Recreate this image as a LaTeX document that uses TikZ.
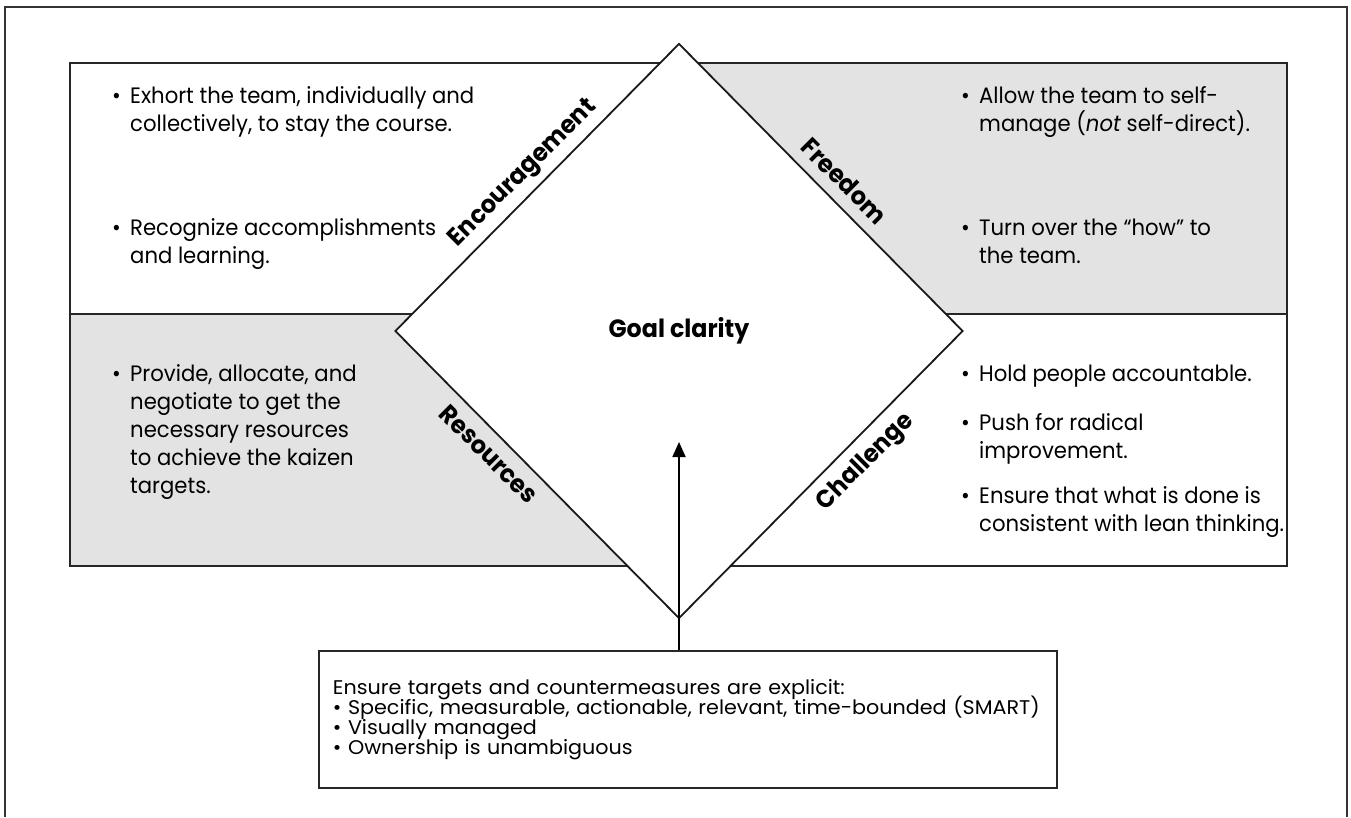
\documentclass[tikz,border=0pt]{standalone}
\usepackage{fontspec}
\setmainfont{Poppins}[FakeStretch=0.95]
\newfontfamily\smartfont{Poppins}[FakeStretch=1.045]
\usetikzlibrary{shapes.geometric,arrows.meta,calc}

% bullet with a fixed gap before the text
\newcommand\bul{\makebox[18pt][l]{\textbullet}}
\newcommand\ind{\hspace*{18pt}}
% wide, tightly set lines for the box under the diamond
\newcommand\boxtext{\smartfont\fontsize{19.8}{20}\selectfont\setlength{\lineskiplimit}{-10pt}}

\begin{document}
\begin{tikzpicture}
  [x=1pt,y=-1pt,
   frame/.style={line width=1.8pt,draw=black!80},
   panel/.style={line width=2pt,draw=black!85},
   shade/.style={fill=black!11},
   goal/.style={diamond,draw=black!90,fill=white,line width=1.8pt,minimum width=568pt,minimum height=575pt,inner sep=0pt,font=\fontsize{25}{30}\selectfont\bfseries},
   side/.style={font=\fontsize{25}{30}\selectfont\bfseries,inner sep=6pt},
   txt/.style={align=left,anchor=base west,inner sep=0pt,font=\fontsize{22.3}{28}\selectfont},
   smartbox/.style={draw=black!85,line width=1.8pt,align=left,anchor=north west,inner xsep=14pt,inner ysep=0pt,text width=710pt,minimum height=137pt,font=\boxtext},
   arr/.style={line width=1.8pt,-{Triangle[length=15pt,width=13pt]}}]
  \useasboundingbox (0,0) rectangle (1351,817);

  % open frame round the figure
  \draw[frame] (5,817) -- (5,7) -- (1347,7) -- (1347,817);

  % four panels behind the diamond
  \fill[shade] (679,63) rectangle (1287,314);
  \fill[shade] (70,314) rectangle (679,566);
  \draw[panel] (70,63) rectangle (1287,566);
  \draw[panel] (70,314) -- (1287,314);

  \node[goal] (goal) at (679,331) {Goal clarity};

  % labels on the four sides
  \node[side,rotate=45,anchor=south] (enc) at ($(goal.north)!0.5!(goal.west)$) {Encouragement};
  \node[side,rotate=-45,anchor=south,inner sep=11pt] (free) at ($(goal.north)!0.53!(goal.east)$) {Freedom};
  \node[side,rotate=-45,anchor=north,inner sep=10pt] (res) at ($(goal.west)!0.38!(goal.south)$) {Resources};
  \node[side,rotate=45,anchor=north,inner sep=10pt] (chal) at ($(goal.east)!0.4!(goal.south)$) {Challenge};

  % top left (anchors sit on the last line)
  \node[txt] (tl1) at (112,131) {\bul Exhort the team, individually and\\\ind collectively, to stay the course.};
  \node[txt] (tl2) at (112,263) {\bul Recognize accomplishments\\\ind and learning.};

  % top right
  \node[txt] (tr1) at (961,131) {\bul Allow the team to self-\\\ind manage (\textit{not} self-direct).};
  \node[txt] (tr2) at (961,263) {\bul Turn over the “how” to\\\ind the team.};

  % bottom left
  \node[txt] (bl1) at (112,493) {\bul Provide, allocate, and\\\ind negotiate to get the\\\ind necessary resources\\\ind to achieve the kaizen\\\ind targets.};

  % bottom right
  \node[txt] (br1) at (961,381) {\bul Hold people accountable.};
  \node[txt] (br2) at (961,458) {\bul Push for radical\\\ind improvement.};
  \node[txt] (br3) at (961,531) {\bul Ensure that what is done is\\\ind consistent with lean thinking.};

  \node[smartbox] (smart) at (318,650) {Ensure targets and countermeasures are explicit:\\
    \textbullet\ Specific, measurable, actionable, relevant, time-bounded (SMART)\\
    \textbullet\ Visually managed\\
    \textbullet\ Ownership is unambiguous};

  \coordinate (tip) at (679,442);
  \draw[arr] (smart.north -| goal.center) -- (tip);
\end{tikzpicture}
\end{document}
